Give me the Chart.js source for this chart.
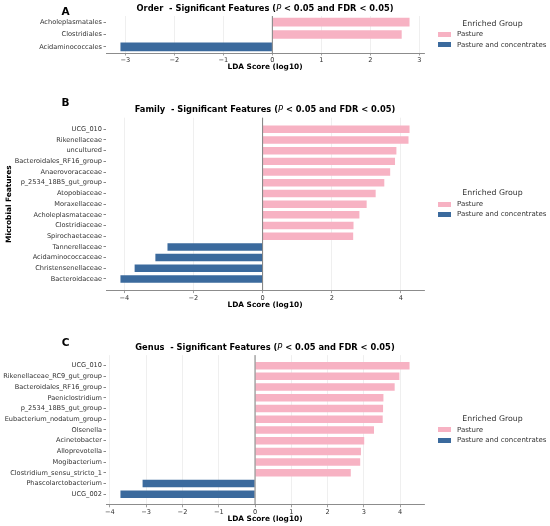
<!DOCTYPE html>
<html>
<head>
<meta charset="utf-8">
<script src="https://cdn.jsdelivr.net/npm/chart.js@4.4.0/dist/chart.umd.min.js"></script>
<style>
  body { margin: 0; background: #fff; width: 550px; height: 526px; position: relative; overflow: hidden; font-family: 'DejaVu Sans', sans-serif; }
  canvas { position: absolute; left: 0; }
  .letter { position: absolute; left: 55px; width: 21px; text-align: center; font-weight: bold; font-size: 10.5px; line-height: 12px; color: #000; }
  .title { position: absolute; left: 86px; width: 358px; text-align: center; font-weight: bold; font-size: 8.3px; line-height: 10px; white-space: pre; color: #000; }
  .title i { font-weight: normal; }
  .lg-title { position: absolute; left: 438px; width: 109px; text-align: center; font-size: 7.8px; line-height: 10px; color: #333; }
  .lg-patch { position: absolute; left: 438px; width: 13px; height: 5px; }
  .lg-text { position: absolute; left: 457px; font-size: 7px; line-height: 10px; color: #333; white-space: nowrap; }
</style>
</head>
<body>
<script>
// LEfSe-style LDA charts, one Chart.js canvas per taxonomic level

// Panel A - Order
const orderLabels = ['Acholeplasmatales', 'Clostridiales', 'Acidaminococcales'];
const orderLDA = [2.80, 2.64, -3.10];
const orderTicks = [-3, -2, -1, 0, 1, 2, 3];

// Panel B - Family
const familyLabels = ['UCG_010', 'Rikenellaceae', 'uncultured', 'Bacteroidales_RF16_group', 'Anaerovoracaceae',
    'p_2534_18B5_gut_group', 'Atopobiaceae', 'Moraxellaceae', 'Acholeplasmataceae', 'Clostridiaceae',
    'Spirochaetaceae', 'Tannerellaceae', 'Acidaminococcaceae', 'Christensenellaceae', 'Bacteroidaceae'];
const familyLDA = [4.25, 4.22, 3.87, 3.83, 3.69, 3.52, 3.27, 3.01, 2.80, 2.63, 2.62, -2.75, -3.10, -3.70, -4.11];
const familyTicks = [-4, -2, 0, 2, 4];

// Panel C - Genus
const genusLabels = ['UCG_010', 'Rikenellaceae_RC9_gut_group', 'Bacteroidales_RF16_group', 'Paeniclostridium',
    'p_2534_18B5_gut_group', 'Eubacterium_nodatum_group', 'Olsenella', 'Acinetobacter', 'Alloprevotella',
    'Mogibacterium', 'Clostridium_sensu_stricto_1', 'Phascolarctobacterium', 'UCG_002'];
const genusLDA = [4.26, 3.98, 3.85, 3.54, 3.53, 3.52, 3.28, 3.01, 2.92, 2.90, 2.64, -3.10, -3.71];
const genusTicks = [-4, -3, -2, -1, 0, 1, 2, 3, 4];

const groupNames = ['Pasture', 'Pasture and concentrates'];
const PINK = '#f7b2c3';
const BLUE = '#3b6a9d';

Chart.defaults.font.family = "'DejaVu Sans', sans-serif";

// vertical zero line drawn on top of the bars
const zeroLine = {
    id: 'zeroLine',
    afterDatasetsDraw(chart) {
        const { ctx, chartArea, scales } = chart;
        const x = scales.x.getPixelForValue(0);
        ctx.save();
        ctx.strokeStyle = '#808080';
        ctx.lineWidth = 1;
        ctx.beginPath();
        ctx.moveTo(x, chartArea.top);
        ctx.lineTo(x, chartArea.bottom);
        ctx.stroke();
        ctx.restore();
    }
};

function fmtTick(v) {
    return v < 0 ? '\u2212' + (-v) : String(v);
}

function addDiv(cls, top, html, style) {
    const d = document.createElement('div');
    d.className = cls;
    d.style.top = top + 'px';
    if (style) Object.assign(d.style, style);
    d.innerHTML = html;
    document.body.appendChild(d);
}

function buildPanel(p) {
    const canvas = document.createElement('canvas');
    canvas.width = 550;
    canvas.height = p.height;
    canvas.style.top = p.top + 'px';
    document.body.appendChild(canvas);

    // matplotlib-like autoscale margins (bar height 0.7, 5% padding)
    const n = p.labels.length;
    const yPad = 0.35 + 0.05 * (n - 1 + 0.7);
    const lo = Math.min(...p.values), hi = Math.max(...p.values);
    const xPad = 0.05 * (hi - lo);

    const points = p.values.map((v, i) => ({ x: v, y: i }));
    const barStyle = { grouped: false, barPercentage: 0.7, categoryPercentage: 1, borderWidth: 0 };

    new Chart(canvas, {
        type: 'bar',
        data: {
            datasets: [
                Object.assign({ label: groupNames[0], data: points.filter(d => d.x > 0), backgroundColor: PINK }, barStyle),
                Object.assign({ label: groupNames[1], data: points.filter(d => d.x < 0), backgroundColor: BLUE }, barStyle)
            ]
        },
        options: {
            indexAxis: 'y',
            responsive: false,
            animation: false,
            layout: {
                padding: {
                    left: 0,
                    right: 126,
                    top: p.plotTop - p.top,
                    bottom: p.height - (p.plotBottom - p.top) - 20
                }
            },
            plugins: { legend: { display: false }, tooltip: { enabled: false } },
            scales: {
                x: {
                    type: 'linear',
                    min: lo - xPad,
                    max: hi + xPad,
                    afterBuildTicks: s => { s.ticks = p.ticks.map(v => ({ value: v })); },
                    afterFit: s => { s.height = 20; },
                    ticks: { font: { size: 6.6 }, color: '#333', padding: 1, maxRotation: 0, callback: v => fmtTick(v) },
                    grid: { color: '#ebebeb', lineWidth: 0.8, tickLength: 2.5, tickColor: '#888' },
                    border: { color: '#8c8c8c', width: 1 },
                    title: {
                        display: true, text: 'LDA Score (log10)', color: '#000',
                        font: { size: 7.4, weight: 'bold' }, padding: { top: 0, bottom: 1.5 }
                    }
                },
                y: {
                    type: 'linear',
                    reverse: true,
                    offset: false,
                    min: -yPad,
                    max: n - 1 + yPad,
                    afterBuildTicks: s => { s.ticks = p.labels.map((_, i) => ({ value: i })); },
                    afterFit: s => { s.width = 106; },
                    ticks: { autoSkip: false, font: { size: 6.6 }, color: '#333', padding: 1.5, callback: v => p.labels[v] },
                    grid: { offset: false, drawOnChartArea: false, tickLength: 2.5, tickColor: '#888' },
                    border: { display: false },
                    title: {
                        display: !!p.yTitle, text: p.yTitle || '', color: '#000',
                        font: { size: 7.4, weight: 'bold' }, padding: { top: 4.5, bottom: 0 }
                    }
                }
            }
        },
        plugins: [zeroLine]
    });

    // panel letter, title and legend as page text
    addDiv('letter', p.letterY - 6, p.letter);
    addDiv('title', p.titleY - 5, p.level + '  - Significant Features (<i>P</i> &lt; 0.05 and FDR &lt; 0.05)');
    addDiv('lg-title', p.legendY[0] - 5, 'Enriched Group');
    [PINK, BLUE].forEach((c, i) => {
        const y = p.legendY[i + 1];
        addDiv('lg-patch', y - 2.5, '', { background: c });
        addDiv('lg-text', y - 5, groupNames[i]);
    });
}

buildPanel({ letter: 'A', level: 'Order', labels: orderLabels, values: orderLDA, ticks: orderTicks,
    top: 0, height: 75, plotTop: 16, plotBottom: 53, titleY: 8, letterY: 11.2, legendY: [24, 34.3, 44.7] });
buildPanel({ letter: 'B', level: 'Family', labels: familyLabels, values: familyLDA, ticks: familyTicks,
    yTitle: 'Microbial Features',
    top: 95, height: 217, plotTop: 117.7, plotBottom: 290.6, titleY: 109, letterY: 101.7, legendY: [193.3, 204, 214.3] });
buildPanel({ letter: 'C', level: 'Genus', labels: genusLabels, values: genusLDA, ticks: genusTicks,
    top: 335, height: 191, plotTop: 355.1, plotBottom: 504.8, titleY: 347, letterY: 342, legendY: [419.3, 429.7, 440] });
</script>
</body>
</html>
